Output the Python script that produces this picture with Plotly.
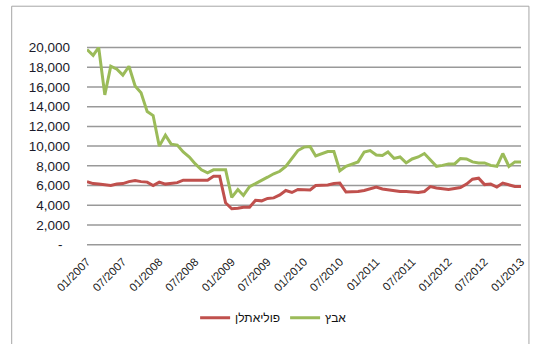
import pandas as pd
import plotly.graph_objects as go

months = pd.date_range("2007-01-01", "2013-01-01", freq="MS")

zinc = [19800, 19200, 20000, 15200, 18100, 17800, 17200, 18100, 16100, 15400,
        13500, 13100, 10000, 11100, 10200, 10100, 9400, 8900, 8200, 7600,
        7300, 7600, 7600, 7600, 4800, 5600, 5000, 5900, 6200, 6500,
        6850, 7200, 7450, 7950, 8800, 9550, 9900, 9950, 9000, 9250,
        9450, 9450, 7500, 7950, 8200, 8400, 9400, 9550, 9100, 9050,
        9400, 8750, 8900, 8300, 8700, 8900, 9250, 8600, 7950, 8050,
        8200, 8200, 8750, 8700, 8400, 8300, 8300, 8050, 7950, 9250,
        7950, 8400, 8400]

polyethylene = [6400, 6200, 6150, 6050, 6000, 6150, 6200, 6400, 6500, 6400,
                6350, 6000, 6350, 6150, 6250, 6300, 6550, 6550, 6550, 6550,
                6550, 6950, 6950, 4250, 3650, 3700, 3800, 3800, 4500, 4450,
                4700, 4750, 5050, 5500, 5300, 5600, 5600, 5550, 6000, 6000,
                6050, 6200, 6250, 5350, 5350, 5400, 5500, 5700, 5850, 5650,
                5550, 5450, 5400, 5400, 5350, 5300, 5400, 5900, 5750, 5700,
                5600, 5700, 5800, 6150, 6650, 6750, 6100, 6150, 5850, 6250,
                6100, 5900, 5900]

series_names = ["פוליאתלן", "אבץ"]
x_tick_dates = pd.date_range("2007-01-01", "2013-01-01", freq="6MS")
x_tick_labels = [d.strftime("%m/%Y") for d in x_tick_dates]
y_tick_vals = list(range(0, 20001, 2000))
y_tick_labels = ["-\u00a0\u00a0"] + [f"{v:,}" for v in y_tick_vals[1:]]

FONT = "Liberation Sans, Arial, sans-serif"
GRID = "#999999"
Y_RANGE = [-25, 20050]

fig = go.Figure()
fig.add_trace(go.Scatter(x=months, y=polyethylene, name=series_names[0], mode="lines",
                         line=dict(color="#C0504D", width=3)))
fig.add_trace(go.Scatter(x=months, y=zinc, name=series_names[1], mode="lines",
                         line=dict(color="#9BBB59", width=3)))

# horizontal gridlines, placed through the y-axis range
grid_lines = [dict(type="line", xref="paper", yref="paper", x0=0, x1=1,
                   y0=(v - Y_RANGE[0]) / (Y_RANGE[1] - Y_RANGE[0]),
                   y1=(v - Y_RANGE[0]) / (Y_RANGE[1] - Y_RANGE[0]),
                   line=dict(color=GRID, width=1.5), layer="below")
              for v in y_tick_vals]

fig.update_layout(
    width=538, height=344,
    margin=dict(l=87, r=13, t=47, b=90),
    paper_bgcolor="white", plot_bgcolor="rgba(0,0,0,0)",
    font=dict(family=FONT, color="#222222"),
    showlegend=True,
    legend=dict(orientation="h", x=0.43, xanchor="center", y=-0.367, yanchor="middle",
                font=dict(size=12, color="#111111"), itemwidth=30, tracegroupgap=0,
                bgcolor="rgba(0,0,0,0)"),
    xaxis=dict(
        range=[months[0], months[-1]],
        tickvals=list(x_tick_dates), ticktext=x_tick_labels,
        tickangle=-45, tickfont=dict(size=11.5, color="#222222"),
        showgrid=False, zeroline=False, showline=False, ticks="",
        ticklabelstandoff=7,
    ),
    yaxis=dict(
        range=Y_RANGE,
        tickvals=y_tick_vals, ticktext=y_tick_labels,
        tickfont=dict(size=13.5, color="#1a1a2a"),
        showgrid=False,
        zeroline=False, showline=False, ticks="", ticklabelstandoff=16,
    ),
    shapes=[dict(type="rect", xref="paper", yref="paper",
                 x0=-0.1735, x1=1.0183, y0=-0.6, y1=1.206,
                 line=dict(color="#A6A6A6", width=1), layer="below")] + grid_lines,
)

fig.write_html("out.html")
